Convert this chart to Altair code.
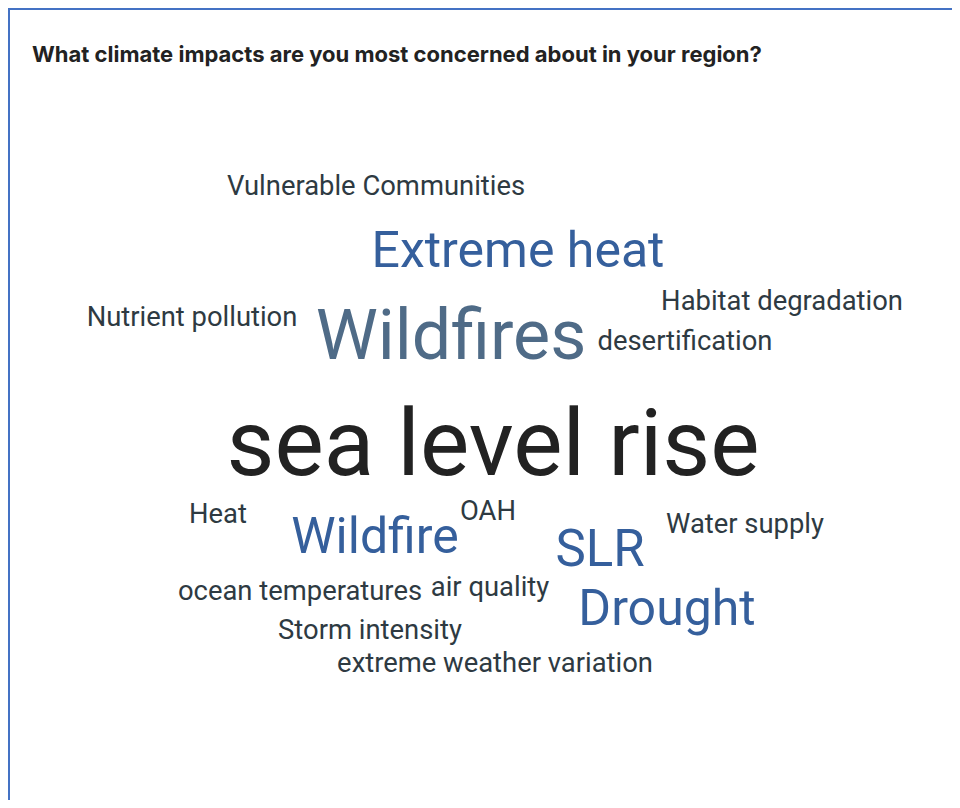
import altair as alt
import pandas as pd

# Word cloud: "What climate impacts are you most concerned about in your region?"
words = [
    "Vulnerable Communities", "Extreme heat", "Nutrient pollution", "Wildfires",
    "Habitat degradation", "desertification", "sea level rise", "Heat", "OAH",
    "Wildfire", "SLR", "Water supply", "ocean temperatures", "air quality",
    "Drought", "Storm intensity", "extreme weather variation",
]
# relative weight -> font size
font_sizes = [27.4, 50, 27.4, 70, 27.4, 27.4, 93, 27.4, 27.4, 50, 51, 27.4, 27.4, 27.4, 50, 27.4, 27.4]
# layout position of each word in the cloud (center x, baseline y)
layout_x = [368, 510, 184, 443, 774, 677, 485, 210, 480, 367, 592, 737, 292, 482, 659, 362, 487]
layout_y = [187, 259, 318, 351, 302, 342, 467, 515, 512, 545, 558, 525, 592, 588, 617, 631, 664]
tones = ["small", "blue", "small", "slate", "small", "small", "black", "small", "small",
         "blue", "blue", "small", "small", "small", "blue", "small", "small"]
tone_colors = {"small": "#2e3a42", "blue": "#355f9c", "slate": "#4f6b87", "black": "#222222"}

df = pd.DataFrame({
    "word": words,
    "size": font_sizes,
    "x": layout_x,
    "y": layout_y,
    "color": [tone_colors[t] for t in tones],
})

W, H = 944, 792

cloud = alt.Chart(df).mark_text(
    font="Roboto", align="center", baseline="alphabetic"
).encode(
    x=alt.X("x:Q", scale=alt.Scale(domain=[0, W], range=[0, W]), axis=None),
    y=alt.Y("y:Q", scale=alt.Scale(domain=[0, H], range=[0, H]), axis=None),
    size=alt.Size("size:Q", scale=None, legend=None),
    color=alt.Color("color:N", scale=None, legend=None),
    text="word:N",
)

title = alt.Chart(pd.DataFrame({"t": ["What climate impacts are you most concerned about in your region?"]})).mark_text(
    font="Inter", fontWeight="bold", fontSize=22, align="left", baseline="alphabetic", color="#222222"
).encode(x=alt.value(24), y=alt.value(54), text="t:N")

border_top = alt.Chart(pd.DataFrame({"a": [0]})).mark_rule(color="#4472c4", strokeWidth=2).encode(
    x=alt.value(0), x2=alt.value(W), y=alt.value(1)
)
border_left = alt.Chart(pd.DataFrame({"a": [0]})).mark_rule(color="#4472c4", strokeWidth=2).encode(
    x=alt.value(1), y=alt.value(0), y2=alt.value(H)
)

chart = alt.layer(border_top, border_left, title, cloud).properties(
    width=W, height=H, autosize=alt.AutoSizeParams(type="none"), padding=0
).configure_view(stroke=None)

chart.save("out.html", embed_options={"renderer": "svg", "actions": False})
